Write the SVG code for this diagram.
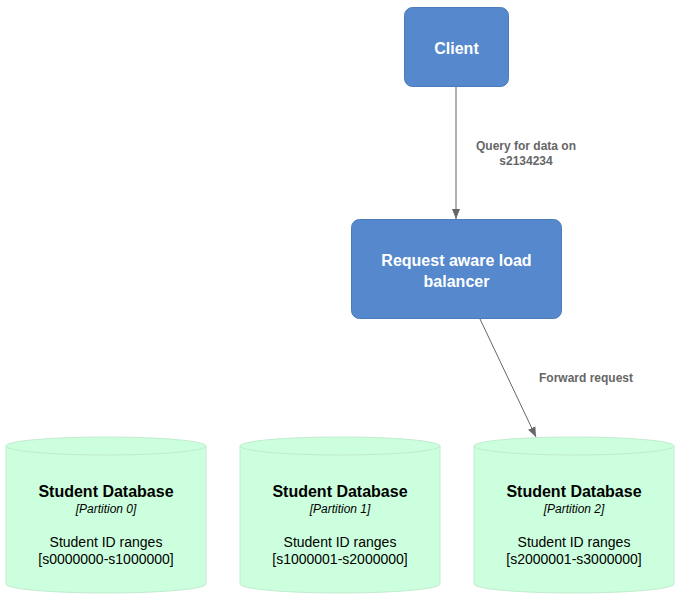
<svg xmlns="http://www.w3.org/2000/svg" width="689" height="609" viewBox="0 0 689 609">
<style>
.box{fill:#5588cc;stroke:#4a7bbb;stroke-width:1}
.bt{font-family:"Liberation Sans",Arial,sans-serif;font-size:16px;font-weight:bold;fill:#ffffff;text-anchor:middle}
.cyl{fill:#ccffdd;stroke:#c0ecce;stroke-width:1}
.t1{font-family:"Liberation Sans",Arial,sans-serif;font-size:16px;font-weight:bold;fill:#000;text-anchor:middle}
.t2{font-family:"Liberation Sans",Arial,sans-serif;font-size:12px;font-style:italic;fill:#000;text-anchor:middle}
.t3{font-family:"Liberation Sans",Arial,sans-serif;font-size:14px;fill:#000;text-anchor:middle}
.edge{stroke:#666666;stroke-width:1;fill:none;marker-end:url(#arr)}
.el{font-family:"Liberation Sans",Arial,sans-serif;font-size:12px;font-weight:bold;fill:#666666;text-anchor:middle}
</style>
<defs>
<marker id="arr" viewBox="0 0 10 10" refX="10" refY="5" markerWidth="10" markerHeight="10" markerUnits="userSpaceOnUse" orient="auto">
<path d="M0,1 L10,5 L0,9 Z" fill="#666666"/>
</marker>
</defs>
<rect width="689" height="609" fill="#ffffff"/>
<g id="connectors">
<line class="edge" x1="456" y1="87" x2="456" y2="219"/>
<text class="el" x="526" y="150">Query for data on</text>
<text class="el" x="526" y="165">s2134234</text>
<line class="edge" x1="480" y1="319" x2="536" y2="437"/>
<text class="el" x="586" y="382">Forward request</text>
</g>
<g id="client">
<rect class="box" x="404.5" y="7.5" width="104" height="79" rx="8"/>
<text class="bt" x="456.5" y="54">Client</text>
</g>
<g id="lb">
<rect class="box" x="351.5" y="219.5" width="210" height="99" rx="8"/>
<text class="bt" x="456.5" y="266">Request aware load</text>
<text class="bt" x="456.5" y="287">balancer</text>
</g>
<g id="db0">
<path class="cyl" d="M6,446 A100,9 0 0 1 206,446 L206,584 A100,9 0 0 1 6,584 Z"/>
<path class="cyl" d="M6,446 A100,9 0 0 0 206,446" fill="none"/>
<text class="t1" x="106" y="497">Student Database</text>
<text class="t2" x="106" y="513">[Partition 0]</text>
<text class="t3" x="106" y="547">Student ID ranges</text>
<text class="t3" x="106" y="564">[s0000000-s1000000]</text>
</g>
<g id="db1">
<path class="cyl" d="M240,446 A100,9 0 0 1 440,446 L440,584 A100,9 0 0 1 240,584 Z"/>
<path class="cyl" d="M240,446 A100,9 0 0 0 440,446" fill="none"/>
<text class="t1" x="340" y="497">Student Database</text>
<text class="t2" x="340" y="513">[Partition 1]</text>
<text class="t3" x="340" y="547">Student ID ranges</text>
<text class="t3" x="340" y="564">[s1000001-s2000000]</text>
</g>
<g id="db2">
<path class="cyl" d="M474,446 A100,9 0 0 1 674,446 L674,584 A100,9 0 0 1 474,584 Z"/>
<path class="cyl" d="M474,446 A100,9 0 0 0 674,446" fill="none"/>
<text class="t1" x="574" y="497">Student Database</text>
<text class="t2" x="574" y="513">[Partition 2]</text>
<text class="t3" x="574" y="564">[s2000001-s3000000]</text>
<text class="t3" x="574" y="547">Student ID ranges</text>
</g>
</svg>
